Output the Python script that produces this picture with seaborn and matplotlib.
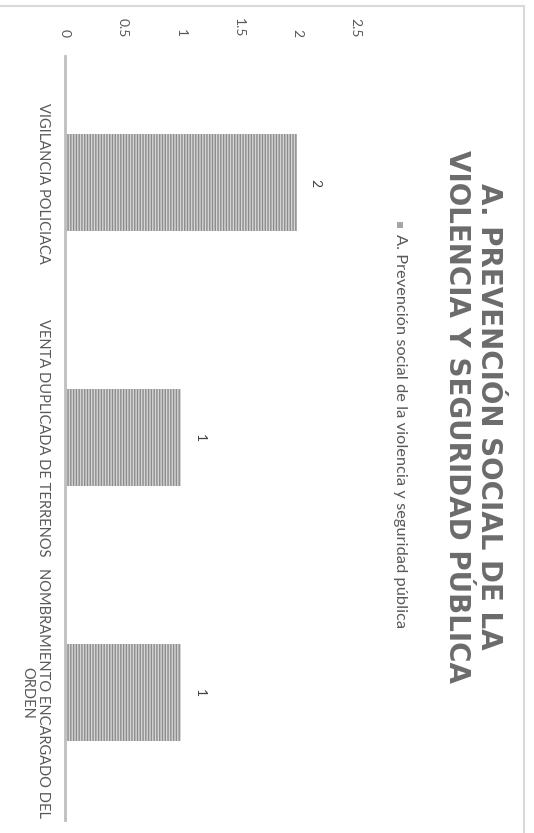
import pandas as pd
import seaborn as sns
import matplotlib.pyplot as plt
from matplotlib.patches import Rectangle
from matplotlib.lines import Line2D

# Data
categories = ['VIGILANCIA POLICIACA', 'VENTA DUPLICADA DE TERRENOS', 'NOMBRAMIENTO ENCARGADO DEL\nORDEN']
values = [2, 1, 1]
series_name = 'A. Prevención social de la violencia y seguridad pública'
title = 'A. PREVENCIÓN SOCIAL DE LA\nVIOLENCIA Y SEGURIDAD PÚBLICA'
value_ticks = [0, 0.5, 1, 1.5, 2, 2.5]
value_tick_labels = ['0', '0.5', '1', '1.5', '2', '2.5']

df = pd.DataFrame({'categoria': categories, 'valor': values})

sns.set_theme(style='white')
plt.rcParams['font.family'] = ['Lato', 'DejaVu Sans']
text_gray = '#595959'

W, H = 534, 833
fig = plt.figure(figsize=(W / 100, H / 100), dpi=100)

# the whole chart is turned a quarter turn clockwise
ax = fig.add_axes([65 / W, 1 - 820 / H, (355 - 65) / W, (820 - 55.5) / H])
sns.barplot(data=df, x='valor', y='categoria', orient='h', ax=ax, width=0.38,
            color='#d6d6d6', edgecolor='#8c8c8c', linewidth=0, hatch='||||||')
for p in ax.patches:
    p.set_hatch_linewidth(1.0)

ax.set_xlim(0, 2.5)
ax.set_xticks(value_ticks)
ax.set_xticklabels(value_tick_labels, rotation=-90, ha='center', va='bottom',
                   color=text_gray, fontsize=10)
ax.xaxis.tick_top()
ax.tick_params(axis='x', length=0, pad=13)
ax.tick_params(axis='y', length=0, pad=11)
ax.set_yticks(range(len(categories)))
ax.set_yticklabels(categories, rotation=-90, va='center', ha='right',
                   color=text_gray, fontsize=10.5, multialignment='center',
                   linespacing=1.1)
ax.set_xlabel('')
ax.set_ylabel('')
for s in ['top', 'right', 'bottom']:
    ax.spines[s].set_visible(False)
ax.spines['left'].set_color('#bfbfbf')
ax.spines['left'].set_linewidth(2)
ax.set_facecolor('none')

for c in ax.containers:
    ax.bar_label(c, labels=[str(v) for v in values], rotation=-90, padding=9,
                 color='#404040', fontsize=10)

# title
fig.text(473 / W, 1 - 416 / H, title, rotation=-90, ha='center', va='center',
         multialignment='center', fontsize=20, fontweight='bold', color='#6b6b6b',
         family=['DejaVu Sans'], linespacing=1.15)

# legend
fig.patches.append(Rectangle((397 / W, 1 - 228 / H), 6 / W, 6 / H, transform=fig.transFigure,
                             facecolor='#a6a6a6', edgecolor='none'))
fig.text(400 / W, 1 - 234 / H, series_name, rotation=-90, ha='center', va='top',
         fontsize=11.8, color=text_gray)

# chart border (top and right)
fig.add_artist(Line2D([0, 524 / W], [1 - 6 / H, 1 - 6 / H], transform=fig.transFigure,
                      color='#d9d9d9', linewidth=1.5))
fig.add_artist(Line2D([524 / W, 524 / W], [1 - 6 / H, 0], transform=fig.transFigure,
                      color='#d9d9d9', linewidth=1.5))

fig.savefig('out.png', dpi=100)
